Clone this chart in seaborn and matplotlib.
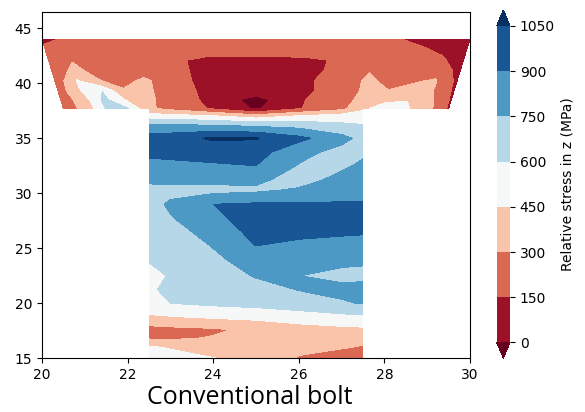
import numpy as np
import matplotlib
matplotlib.use("Agg")
import matplotlib.pyplot as plt
import seaborn as sns

# ---------------- data ----------------
levels = [0, 150, 300, 450, 600, 750, 900, 1050]
x_ticks = [20, 22, 24, 26, 28, 30]
y_ticks = [15, 20, 25, 30, 35, 40, 45]
cbar_label = "Relative stress in z (MPa)"
title_text = "Conventional bolt"

# bolt geometry (data coordinates)
bolt_axis = 25.0
head_half_bottom = 4.5
head_half_top = 5.0

# head: node columns along the head bottom, rows of the head
head_x = [20.5, 21, 21.5, 22, 22.5, 23, 24, 25, 26, 27, 27.5, 28, 28.5, 29, 29.5]
head_y = [37.7, 38.5, 39.3, 40.2, 41.2, 42.1, 43.2, 44.0]
head_z = [
    [240, 330, 610, 610, 320, 260, 130, -20, 140, 260, 420, 520, 470, 360, 130],
    [220, 360, 640, 440, 330, 250, 105, -60, 135, 240, 360, 420, 445, 340, 130],
    [215, 440, 595, 320, 330, 240, 100, 90, 110, 230, 330, 305, 350, 310, 125],
    [190, 465, 310, 240, 340, 215, 100, 95, 120, 220, 330, 260, 280, 320, 115],
    [195, 340, 240, 225, 220, 195, 110, 105, 115, 185, 290, 235, 230, 220, 110],
    [200, 290, 245, 235, 225, 190, 110, 115, 120, 175, 215, 215, 205, 170, 90],
    [180, 205, 215, 220, 225, 230, 235, 240, 240, 235, 220, 195, 160, 120, 90],
    [110, 170, 190, 200, 210, 215, 220, 225, 225, 210, 180, 155, 120, 95, 80],
]

# shank (rows below the head; its top row is shared with the head bottom)
shank_x = [22.5, 23, 24, 25, 26, 27, 27.5]
shank_y = [15, 16, 16.8, 17.6, 18.75, 20, 21.25, 22.5, 24, 25.3, 26.5, 27.75,
           29, 30.3, 31.25, 32.5, 33.75, 35, 36.25, 37]
shank_z = [
    [520, 500, 455, 400, 290, 240, 230],
    [470, 440, 380, 360, 330, 310, 290],
    [290, 285, 310, 350, 360, 340, 330],
    [240, 260, 280, 330, 390, 410, 420],
    [430, 440, 470, 490, 520, 560, 570],
    [540, 600, 630, 650, 690, 730, 760],
    [580, 630, 680, 700, 755, 800, 790],
    [560, 610, 680, 760, 752, 700, 720],
    [610, 640, 720, 820, 820, 800, 770],
    [640, 660, 760, 905, 870, 860, 850],
    [660, 700, 800, 950, 940, 920, 915],
    [680, 740, 860, 980, 990, 990, 990],
    [690, 775, 900, 920, 915, 915, 915],
    [710, 700, 700, 720, 770, 830, 830],
    [780, 790, 800, 790, 680, 800, 820],
    [850, 860, 880, 900, 740, 720, 780],
    [940, 950, 970, 960, 800, 700, 720],
    [980, 990, 1070, 1060, 940, 800, 700],
    [760, 750, 730, 700, 680, 620, 600],
    [520, 510, 470, 380, 470, 520, 530],
]

# ---------------- style ----------------
sns.set_style("ticks", {
    "axes.edgecolor": "black", "xtick.color": "black", "ytick.color": "black",
    "text.color": "black", "axes.labelcolor": "black",
})
plt.rcParams["font.family"] = ["DejaVu Sans"]
plt.rcParams["font.size"] = 10
plt.rcParams["axes.linewidth"] = 0.8

cmap = sns.color_palette("RdBu", as_cmap=True)

fig = plt.figure(figsize=(5.85, 4.12), dpi=100)
ax = fig.add_axes([42 / 585, 53.7 / 412, 428 / 585, 346.6 / 412])

# head grid (trapezoid widening toward the top)
hy = np.array(head_y, dtype=float)
half = head_half_bottom + (head_half_top - head_half_bottom) * (hy - hy[0]) / (hy[-1] - hy[0])
HX = bolt_axis + (np.array(head_x)[None, :] - bolt_axis) * (half / head_half_bottom)[:, None]
HY = np.repeat(hy[:, None], len(head_x), axis=1)
HZ = np.array(head_z, dtype=float)
cs = ax.contourf(HX, HY, HZ, levels=levels, cmap=cmap, extend="both")

# shank grid, top row taken from the head bottom row
i0 = head_x.index(shank_x[0])
i1 = head_x.index(shank_x[-1]) + 1
SZ = np.vstack([np.array(shank_z, dtype=float), HZ[0, i0:i1]])
SX, SY = np.meshgrid(shank_x, shank_y + [head_y[0]])
ax.contourf(SX, SY, SZ, levels=levels, cmap=cmap, extend="both")

ax.set_xlim(20, 30)
ax.set_ylim(15, 46.5)
ax.set_xticks(x_ticks)
ax.set_yticks(y_ticks)
ax.tick_params(direction="out", length=3.5, width=0.8, labelsize=10)
for s in ax.spines.values():
    s.set_visible(True)
    s.set_linewidth(0.8)

cax = fig.add_axes([496.7 / 585, 53.7 / 412, 13.3 / 585, 348.3 / 412])
cb = fig.colorbar(cs, cax=cax, ticks=levels)
cb.outline.set_visible(False)
cb.ax.tick_params(labelsize=10, length=3.5, width=0.8)
cb.set_label(cbar_label, fontsize=10)

fig.text(250 / 585, 7.5 / 412, title_text, fontsize=18, family=["Open Sans", "DejaVu Sans"],
         ha="center", va="baseline")

fig.savefig("out.png", dpi=100)
